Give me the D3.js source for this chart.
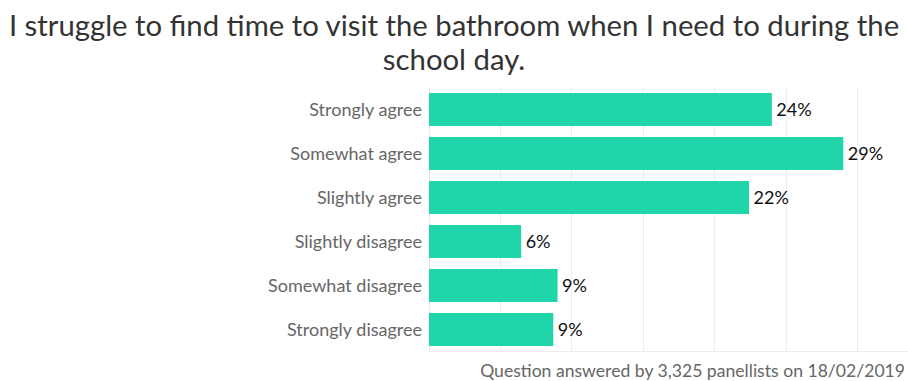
<!DOCTYPE html>
<html><head><meta charset="utf-8">
<script src="https://cdn.jsdelivr.net/npm/d3@7"></script>
<style>body{margin:0;background:#fff;}svg{display:block;font-family:Lato,sans-serif;}</style>
</head><body><svg id="c" width="908" height="381"></svg>
<script>
const categories = ["Strongly agree","Somewhat agree","Slightly agree","Slightly disagree","Somewhat disagree","Strongly disagree"];
const values = [24.0, 29.0, 22.4, 6.45, 9.0, 8.7];
const valueLabels = ["24%","29%","22%","6%","9%","9%"];
const xTicks = [0,5,10,15,20,25,30,35];
const titleLines = ["I struggle to find time to visit the bathroom when I need to during the","school day."];
const footer = "Question answered by 3,325 panellists on 18/02/2019";

const svg = d3.select("#c");
const x = d3.scaleLinear().domain([0,35]).range([429, 929]);
const y = d3.scaleBand().domain(categories).range([87.5, 351.5]).paddingInner(0.25).paddingOuter(0.125);

svg.append("g").selectAll("line").data(xTicks).join("line")
  .attr("x1", d=>x(d)).attr("x2", d=>x(d)).attr("y1", 87).attr("y2", 351)
  .attr("stroke","#ececec").attr("stroke-width",1).attr("shape-rendering","crispEdges");
svg.append("line").attr("x1",x(0)).attr("x2",908).attr("y1",351).attr("y2",351)
  .attr("stroke","#ececec").attr("shape-rendering","crispEdges");

svg.append("g").selectAll("rect").data(values).join("rect")
  .attr("x", x(0)).attr("y",(d,i)=>y(categories[i]))
  .attr("width", d=>x(d)-x(0)).attr("height", y.bandwidth())
  .attr("fill","#20d5aa");

svg.append("g").selectAll("text").data(categories).join("text")
  .attr("x", 422).attr("y", d=>y(d)+y.bandwidth()/2).attr("dy","0.35em")
  .attr("text-anchor","end").attr("fill","#666").attr("font-size",18).text(d=>d);

svg.append("g").selectAll("text").data(values).join("text")
  .attr("x", d=>x(d)+4.5).attr("y",(d,i)=>y(categories[i])+y.bandwidth()/2).attr("dy","0.35em")
  .attr("fill","#111").attr("font-size",18).text((d,i)=>valueLabels[i]);

svg.append("g").selectAll("text").data(titleLines).join("text")
  .attr("x", 454).attr("y",(d,i)=>36+i*34).attr("text-anchor","middle")
  .attr("fill","#333").attr("font-size",29.3).text(d=>d);

svg.append("text").attr("x",905).attr("y",377).attr("text-anchor","end")
  .attr("fill","#666").attr("font-size",17.6).text(footer);
</script></body></html>
